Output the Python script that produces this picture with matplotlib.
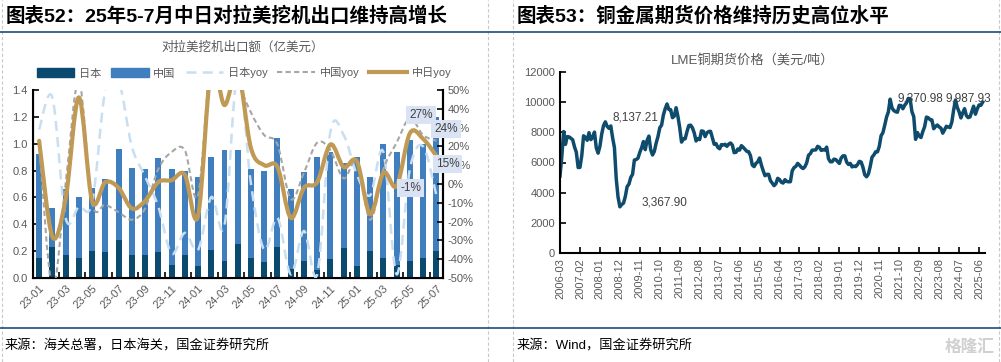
import numpy as np
import pandas as pd
import matplotlib
matplotlib.use("Agg")
import matplotlib.pyplot as plt
from matplotlib.path import Path
from matplotlib.patches import PathPatch, Patch
from matplotlib.lines import Line2D

plt.rcParams['font.family'] = ['Liberation Sans', 'Noto Sans CJK SC', 'DejaVu Sans']

# ---- Daten links: Export nach Lateinamerika (亿美元 / yoy %)
months = ['23-01', '23-02', '23-03', '23-04', '23-05', '23-06', '23-07', '23-08', '23-09', '23-10',
          '23-11', '23-12', '24-01', '24-02', '24-03', '24-04', '24-05', '24-06', '24-07', '24-08',
          '24-09', '24-10', '24-11', '24-12', '25-01', '25-02', '25-03', '25-04', '25-05', '25-06', '25-07']
japan = [0.15, 0.23, 0.17, 0.15, 0.20, 0.19, 0.28, 0.17, 0.17, 0.19, 0.10, 0.17, 0.09, 0.21, 0.13, 0.25,
         0.15, 0.12, 0.23, 0.07, 0.13, 0.06, 0.14, 0.22, 0.09, 0.20, 0.15, 0.10, 0.13, 0.15, 0.20]
china = [0.77, 0.29, 0.49, 0.45, 0.47, 0.55, 0.68, 0.65, 0.64, 0.70, 0.71, 0.63, 0.66, 0.69, 0.82, 0.70,
         0.66, 0.68, 0.81, 0.59, 0.66, 0.84, 0.80, 0.64, 0.81, 0.55, 0.85, 0.84, 0.90, 0.85, 1.00]
japan_yoy = [29, 46, -18, -12, -10, 50, 55, 20, 4, -12, -37, -26, -35, -7, -22, 60, 0, -35, -18, -48,
             -25, -48, 28, 26, 5, -6, 17, -48, 8, 20, -6]
china_yoy = [22, -55, 0, 55, -10, -11, -15, -19, -13, 8, 17, 18, -6, 70, 80, 55, 38, 26, 21, -8,
             6, 22, 18, 3, 12, -19, 8, 22, 35, 26, 23]
cj_yoy = [23, -28, -8, 46, -9, 1, -2, -13, -9, 1, 2, 5, -17, 62, 42, 60, 19, 10, 9, -18,
          -2, 1, 21, 9, 12, -16, 6, -1, 27, 24, 15]
# beschriftete Punkte (Index, Text)
label_idx = [27, 28, 29, 30]
label_txt = ['-1%', '27%', '24%', '15%']

# ---- Daten rechts: LME Kupfer (USD/t), monatlich ab 2006-03
cu = [5103, 6391, 8046, 7197, 7712, 7692, 7602, 7500, 7029, 6676,
      5669, 5676, 6452, 7766, 7660, 7469, 7971, 7510, 7652, 8008, 6967, 6616,
      7061, 7888, 8439, 8685, 8383, 8260, 8414, 7634, 6991, 4926, 3717, 3072,
      3221, 3315, 3750, 4407, 4569, 5014, 5216, 6165, 6196, 6288, 6676, 6982,
      7386, 6848, 7463, 7745, 6838, 6499, 6735, 7284, 7709, 8292, 8470, 9147,
      9556, 9868, 9504, 9493, 8960, 9066, 9620, 9040, 8300, 7350, 7580, 7565,
      8040, 8441, 8470, 8289, 7955, 7423, 7584, 7515, 8088, 8062, 7711, 7966,
      8047, 8061, 7645, 7204, 7248, 7000, 6907, 7186, 7159, 7203, 7071, 7215,
      7291, 7149, 6650, 6674, 6891, 6821, 7113, 7002, 6872, 6737, 6713, 6446,
      5831, 5729, 5940, 6042, 6295, 5833, 5457, 5127, 5217, 5216, 4800, 4638,
      4472, 4599, 4954, 4873, 4696, 4642, 4864, 4751, 4723, 4731, 5450, 5660,
      5741, 5941, 5825, 5684, 5600, 5720, 5985, 6485, 6583, 6812, 6826, 6834,
      7066, 7006, 6800, 6838, 6824, 7016, 6251, 6051, 6050, 6220, 6195, 6072,
      5939, 6300, 6439, 6440, 6029, 5869, 5940, 5710, 5760, 5730, 5860, 6077,
      6031, 5687, 5183, 5058, 5239, 5742, 6354, 6497, 6705, 6704, 7064, 7772,
      7971, 8460, 8998, 9336, 10184, 9612, 9433, 9357, 9324, 9778, 9765, 9551,
      9780, 9941, 10237, 10183, 9361, 9030, 7530, 7982, 7746, 7651, 8049, 8367,
      8999, 8955, 8830, 8814, 8234, 8386, 8478, 8352, 8270, 7940, 8163, 8394,
      8345, 8309, 8675, 9481, 10128, 9638, 9350, 8946, 9281, 9556, 9104, 8965,
      9010, 9360, 9720, 9190, 9540, 9800, 9780, 9988]
cu_dates = pd.date_range('2006-03-01', periods=len(cu), freq='MS').strftime('%Y-%m')
cu_labels = ['8,137.21', '3,367.90', '9,370.98', '9,987.93']
cu_label_pos = [(28.7, 9000), (45.2, 3370), (185.8, 10260), (212.3, 10260)]

navy = '#0b4a6f'
blue = '#3f7fc0'
lblue = '#c9def0'
grey = '#a6a6a6'
gold = '#c09a55'
txt_grey = '#595959'

W, H = 1001, 362
fig = plt.figure(figsize=(W / 100, H / 100), dpi=100)


def fx(px):
    return px / W


def fy(py):
    return 1 - py / H


def smooth_path(x, y):
    # Excel-artige geglaettete Linie (Bezier durch die Datenpunkte)
    n = len(x)
    verts = [(x[0], y[0])]
    codes = [Path.MOVETO]
    for i in range(n - 1):
        a = max(i - 1, 0)
        b = min(i + 2, n - 1)
        c1 = (x[i] + (x[i + 1] - x[a]) / 6, y[i] + (y[i + 1] - y[a]) / 6)
        c2 = (x[i + 1] - (x[b] - x[i]) / 6, y[i + 1] - (y[b] - y[i]) / 6)
        verts += [c1, c2, (x[i + 1], y[i + 1])]
        codes += [Path.CURVE4] * 3
    return Path(verts, codes)


# ---- Rahmen, Titel, Quellen
for xx in [2, 488, 513, 999]:
    fig.add_artist(Line2D([fx(xx), fx(xx)], [0, 1], color='#c8c8c8', lw=0.8, ls=(0, (3, 2))))
for yy in [32, 328]:
    fig.add_artist(Line2D([0, 1], [fy(yy), fy(yy)], color='#1f4e79', lw=1.2))
fig.text(fx(6), fy(16), '图表52：25年5-7月中日对拉美挖机出口维持高增长', fontsize=14,
         fontweight='bold', va='center', ha='left')
fig.text(fx(517), fy(16), '图表53：铜金属期货价格维持历史高位水平', fontsize=14,
         fontweight='bold', va='center', ha='left')
fig.text(fx(5), fy(346), '来源：海关总署，日本海关，国金证券研究所', fontsize=9.5, va='center')
fig.text(fx(517), fy(346), '来源：Wind，国金证券研究所', fontsize=9.5, va='center')
fig.text(fx(995), fy(347), '格隆汇', fontsize=12, va='center', ha='right', color='#d0d0d0',
         fontweight='bold')

# ---- linkes Diagramm
fig.text(fx(243), fy(48), '对拉美挖机出口额（亿美元）', fontsize=9, color=txt_grey, ha='center', va='center')
ax = fig.add_axes([fx(32.5), fy(278), fx(443 - 32.5), (278 - 90) / H])
x = np.arange(len(months))
ax.bar(x, japan, width=0.45, color=navy, zorder=2)
ax.bar(x, china, width=0.45, bottom=japan, color=blue, zorder=2)
ax.set_xlim(-0.5, len(months) - 0.5)
ax.set_ylim(0, 1.4)
ax.set_yticks(np.arange(0, 1.41, 0.2))
ax.set_yticklabels([f'{v:.1f}' for v in np.arange(0, 1.41, 0.2)])
ax.set_xticks(x[::2])
ax.set_xticklabels(months[::2], rotation=45, ha='right', va='top', rotation_mode='anchor')
ax.set_xticks(x[1::2] + 0.5, minor=True)
ax.tick_params(axis='x', which='major', length=0, labelsize=8, labelcolor=txt_grey, pad=4)
ax.tick_params(axis='x', which='minor', length=4, direction='in', width=1.2)
ax.tick_params(axis='y', length=4, direction='in', width=1.2, labelsize=8, labelcolor=txt_grey)
ax.spines['top'].set_visible(False)
for s in ['left', 'bottom', 'right']:
    ax.spines[s].set_linewidth(1.5)

ax2 = ax.twinx()
ax2.set_ylim(-50, 50)
ax2.set_yticks(range(-50, 51, 10))
ax2.set_yticklabels([f'{v}%' for v in range(-50, 51, 10)])
ax2.tick_params(axis='y', length=4, direction='in', width=1.2, labelsize=8, labelcolor=txt_grey)
ax2.spines['top'].set_visible(False)
ax2.spines['right'].set_linewidth(1.5)
ax2.add_patch(PathPatch(smooth_path(x, japan_yoy), fill=False, ec=lblue, lw=1.8, ls=(0, (4, 2.5))))
ax2.add_patch(PathPatch(smooth_path(x, china_yoy), fill=False, ec=grey, lw=1.5, ls=(0, (2.5, 1.6))))
ax2.add_patch(PathPatch(smooth_path(x, cj_yoy), fill=False, ec=gold, lw=3.0, capstyle='round'))

offsets = {'-1%': (10, -1.5), '27%': (8, 13), '24%': (16.5, 7), '15%': (8, -6)}
for i, t in zip(label_idx, label_txt):
    ax2.annotate(t, xy=(i, cj_yoy[i]), xytext=offsets[t], textcoords='offset points',
                 ha='center', va='center', fontsize=8.5, color='#404040', annotation_clip=False,
                 bbox=dict(boxstyle='square,pad=0.25', fc='#dae3f3', ec='none'), zorder=5)

handles = [Patch(color=navy), Patch(color=blue),
           Line2D([], [], color=lblue, lw=1.8, ls=(0, (4, 2.5))),
           Line2D([], [], color=grey, lw=1.5, ls=(0, (2.5, 1.6))),
           Line2D([], [], color=gold, lw=3.0)]
fig.legend(handles, ['日本', '中国', '日本yoy', '中国yoy', '中日yoy'], loc='center',
           bbox_to_anchor=(fx(244), fy(73)), ncol=5, frameon=False, fontsize=8,
           handlelength=3.4, handleheight=0.8, handletextpad=0.4, columnspacing=0.9,
           labelcolor=txt_grey)

# ---- rechtes Diagramm
fig.text(fx(753), fy(60), 'LME铜期货价格（美元/吨）', fontsize=9.5, color=txt_grey, ha='center', va='center')
axr = fig.add_axes([fx(560), fy(253.3), fx(424.5), (253.3 - 71.7) / H])
xr = np.arange(len(cu))
axr.plot(xr, cu, color='#0e4b6c', lw=2.5)
axr.set_xlim(0, len(cu))
axr.set_ylim(0, 12000)
axr.set_yticks(range(0, 12001, 2000))
axr.set_xticks(xr[::11])
axr.set_xticklabels(cu_dates[::11], rotation=90, ha='center', va='top')
axr.tick_params(axis='x', length=4, direction='in', width=1.2, labelsize=8, labelcolor=txt_grey)
axr.tick_params(axis='y', length=4, direction='in', width=1.2, labelsize=8, labelcolor=txt_grey)
for s in ['top', 'right']:
    axr.spines[s].set_visible(False)
for s in ['left', 'bottom']:
    axr.spines[s].set_linewidth(1.5)
for t, (px_, py_) in zip(cu_labels, cu_label_pos):
    axr.text(px_, py_, t, fontsize=8.5, color='#404040', ha='left', va='center')

fig.savefig('out.png', dpi=100)
